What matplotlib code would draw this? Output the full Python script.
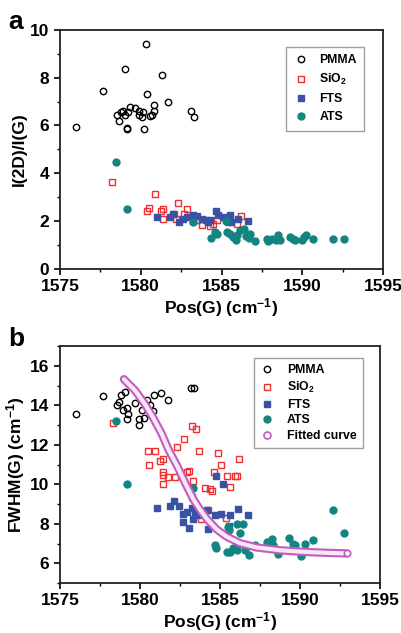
import numpy as np
import matplotlib
matplotlib.use("Agg")
import matplotlib.pyplot as plt
from matplotlib.ticker import MultipleLocator

plt.rcParams['font.family'] = ['Liberation Sans', 'DejaVu Sans']
plt.rcParams['font.weight'] = 'bold'
plt.rcParams['mathtext.fontset'] = 'custom'
plt.rcParams['mathtext.rm'] = 'Liberation Sans:bold'
plt.rcParams['mathtext.default'] = 'rm'

# ---------------- panel a : I(2D)/I(G) vs Pos(G) ----------------
a_pmma_x = [1575.97, 1577.64, 1579.05, 1580.30, 1581.32, 1580.41, 1581.71, 1583.09, 1583.30,
            1580.82, 1580.84, 1580.70, 1580.57, 1580.20, 1579.13, 1579.13, 1578.63, 1578.53,
            1578.80, 1579.02, 1579.23, 1579.33, 1579.64, 1579.89, 1580.12, 1580.10, 1579.89,
            1578.88]
a_pmma_y = [5.94, 7.43, 8.35, 9.41, 8.09, 7.32, 7.00, 6.59, 6.37,
            6.86, 6.61, 6.42, 6.40, 5.84, 5.88, 5.84, 6.19, 6.44,
            6.58, 6.44, 6.58, 6.79, 6.73, 6.44, 6.55, 6.34, 6.62,
            6.61]
a_sio2_x = [1578.24, 1580.90, 1580.49, 1580.39, 1581.40, 1581.24, 1581.40, 1582.29, 1582.88,
            1582.08, 1582.66, 1583.80, 1584.31, 1586.19, 1585.94, 1582.20, 1583.50, 1584.70,
            1585.40, 1584.50]
a_sio2_y = [3.62, 3.14, 2.57, 2.43, 2.50, 2.43, 2.09, 2.74, 2.49,
            2.32, 2.32, 1.86, 1.80, 2.21, 1.87, 2.10, 2.05, 2.05,
            1.95, 1.90]
a_fts_x = [1581.03, 1581.81, 1582.02, 1582.39, 1582.64, 1582.85, 1583.21, 1583.50, 1583.77,
           1584.04, 1584.18, 1584.66, 1584.80, 1585.07, 1585.53, 1585.57, 1586.04, 1586.66,
           1584.30, 1583.25]
a_fts_y = [2.18, 2.18, 2.28, 1.97, 2.11, 2.18, 2.25, 2.21, 2.11,
           2.04, 1.97, 2.43, 2.25, 2.18, 2.25, 1.97, 2.08, 2.00,
           2.05, 2.00]
a_ats_x = [1578.47, 1579.13, 1583.21, 1584.37, 1584.60, 1584.70, 1585.28, 1585.36, 1585.53,
           1585.74, 1585.94, 1585.90, 1586.15, 1586.39, 1586.52, 1586.76, 1586.72, 1587.07,
           1587.80, 1587.90, 1588.11, 1588.38, 1588.52, 1588.62, 1589.24, 1589.45, 1589.55,
           1589.96, 1590.11, 1590.24, 1590.69, 1591.88, 1592.61]
a_ats_y = [4.46, 2.51, 1.97, 1.31, 1.55, 1.48, 2.01, 1.55, 1.48,
           1.34, 1.41, 1.23, 1.62, 1.68, 1.37, 1.48, 1.31, 1.17,
           1.27, 1.17, 1.27, 1.23, 1.41, 1.23, 1.34, 1.27, 1.20,
           1.23, 1.34, 1.41, 1.27, 1.27, 1.27]

# ---------------- panel b : FWHM(G) vs Pos(G) ----------------
b_pmma_x = [1575.98, 1577.67, 1578.69, 1578.58, 1578.85, 1579.06, 1578.92, 1579.17, 1579.27,
            1579.17, 1579.94, 1579.94, 1580.15, 1580.27, 1579.69, 1580.42, 1580.63, 1580.83,
            1580.88, 1581.35, 1581.77, 1583.17, 1583.38]
b_pmma_y = [13.59, 14.49, 14.17, 14.01, 14.51, 14.68, 13.79, 13.89, 13.59,
            13.29, 13.29, 13.00, 13.76, 13.34, 14.12, 14.26, 14.01, 13.72,
            14.51, 14.63, 14.29, 14.88, 14.88]
b_sio2_x = [1578.29, 1580.48, 1580.56, 1580.96, 1581.25, 1581.46, 1581.46, 1581.46, 1581.46,
            1581.77, 1582.19, 1582.35, 1582.77, 1582.92, 1583.08, 1583.23, 1583.48, 1583.33,
            1583.69, 1584.06, 1584.38, 1584.48, 1584.63, 1584.90, 1585.06, 1585.42, 1585.63,
            1585.94, 1586.21, 1586.08, 1585.38, 1583.83, 1584.27]
b_sio2_y = [13.09, 11.70, 10.99, 11.70, 11.19, 11.27, 10.64, 10.47, 10.02,
            10.35, 10.35, 11.91, 12.28, 10.61, 10.69, 12.98, 12.82, 10.19,
            11.70, 9.80, 9.77, 9.68, 10.61, 11.61, 10.99, 10.44, 9.85,
            10.44, 11.27, 10.44, 8.30, 8.23, 8.68]
b_fts_x = [1581.08, 1581.88, 1582.13, 1582.46, 1582.67, 1582.67, 1582.92, 1583.08, 1583.23,
           1583.29, 1583.44, 1583.65, 1583.96, 1584.21, 1584.27, 1584.69, 1585.04, 1584.75,
           1585.17, 1585.58, 1585.63, 1586.15, 1586.77, 1583.23]
b_fts_y = [8.80, 8.90, 9.18, 8.90, 8.51, 8.09, 8.60, 7.79, 8.80,
           8.23, 8.51, 8.43, 8.51, 8.68, 7.76, 8.43, 8.48, 10.41,
           10.02, 7.89, 8.46, 8.73, 8.43, 9.35]
b_ats_x = [1578.50, 1579.17, 1583.29, 1584.69, 1584.75, 1585.42, 1585.52, 1585.63, 1585.83,
           1586.04, 1586.04, 1586.25, 1586.46, 1586.56, 1586.83, 1587.19, 1587.92, 1588.23,
           1588.33, 1588.65, 1589.33, 1589.54, 1589.69, 1590.10, 1590.31, 1590.83, 1592.04,
           1592.77, 1585.60, 1586.10]
b_ats_y = [13.20, 10.02, 9.80, 6.92, 6.75, 6.55, 7.84, 6.58, 6.75,
           8.01, 6.67, 7.51, 8.01, 6.67, 6.42, 6.92, 7.09, 7.22,
           6.92, 6.45, 7.29, 7.00, 6.95, 6.38, 6.99, 7.17, 8.68,
           7.51, 7.70, 6.90]
fit_x = [1579.0, 1579.7, 1580.3, 1580.8, 1581.35, 1581.8, 1582.35, 1582.9, 1583.35, 1583.75,
         1584.2, 1584.8, 1585.4, 1586.25, 1587.3, 1588.75, 1589.8, 1591.0, 1592.0, 1592.95]
fit_y = [15.33, 14.76, 14.08, 13.42, 12.58, 11.74, 10.90, 9.95, 9.23, 8.73,
         8.23, 7.72, 7.36, 7.02, 6.80, 6.66, 6.60, 6.55, 6.52, 6.50]

RED = '#f03030'
BLUE = '#3a52a4'
TEAL = '#138580'
PINK = '#c25cc0'

fig = plt.figure(figsize=(4.02, 6.33), dpi=100)
ax_a = fig.add_axes([0.149, 0.575, 0.804, 0.378])
ax_b = fig.add_axes([0.149, 0.079, 0.796, 0.374])


def draw_series(ax, px, py, sx, sy, fx, fy, tx, ty):
    ax.plot(px, py, 'o', ls='none', mfc='none', mec='black', mew=1.0, ms=4.6, label='PMMA')
    ax.plot(sx, sy, 's', ls='none', mfc='none', mec=RED, mew=1.0, ms=4.4, label='SiO$_2$')
    ax.plot(fx, fy, 's', ls='none', mfc=BLUE, mec=BLUE, ms=4.8, label='FTS')
    ax.plot(tx, ty, 'o', ls='none', mfc=TEAL, mec=TEAL, ms=5.0, label='ATS')


def style(ax, ylim, ymajor, yminor, ylabel):
    ax.set_xlim(1575, 1595)
    ax.set_ylim(*ylim)
    ax.xaxis.set_major_locator(MultipleLocator(5))
    ax.xaxis.set_minor_locator(MultipleLocator(2.5))
    ax.yaxis.set_major_locator(MultipleLocator(ymajor))
    ax.yaxis.set_minor_locator(MultipleLocator(yminor))
    ax.tick_params(which='major', direction='out', length=4, width=1.2, labelsize=12.5)
    ax.tick_params(which='minor', direction='out', length=2.5, width=1.0)
    for sp in ax.spines.values():
        sp.set_linewidth(1.3)
        sp.set_color('#222222')
    for lab in ax.get_xticklabels() + ax.get_yticklabels():
        lab.set_fontweight('bold')
    ax.set_xlabel('Pos(G) (cm$^{-1}$)', fontsize=12.5, fontweight='bold', labelpad=1)
    ax.set_ylabel(ylabel, fontsize=12.5, fontweight='bold', labelpad=2)


draw_series(ax_a, a_pmma_x, a_pmma_y, a_sio2_x, a_sio2_y, a_fts_x, a_fts_y, a_ats_x, a_ats_y)
style(ax_a, (0, 10), 2, 1, 'I(2D)/I(G)')
leg_a = ax_a.legend(loc='upper right', bbox_to_anchor=(0.96, 0.955), fontsize=8.8,
                    frameon=True, fancybox=False, edgecolor='#888888', handlelength=1.2,
                    handletextpad=0.9, borderpad=0.6, labelspacing=0.5)
leg_a.get_frame().set_linewidth(1.0)

draw_series(ax_b, b_pmma_x, b_pmma_y, b_sio2_x, b_sio2_y, b_fts_x, b_fts_y, b_ats_x, b_ats_y)
# fitted curve drawn as a tube of hollow circles, on top of the points
ax_b.plot(fit_x, fit_y, '-', color=PINK, lw=6.0, solid_capstyle='round', zorder=6)
ax_b.plot(fit_x, fit_y, '-', color='#f6e8f6', lw=3.0, solid_capstyle='round', zorder=7)
ax_b.plot(fit_x[-1:], fit_y[-1:], 'o', mfc='white', mec=PINK, mew=1.2, ms=4.5, zorder=8)
ax_b.plot([], [], 'o', ls='none', mfc='none', mec=PINK, mew=1.2, ms=5, label='Fitted curve')
style(ax_b, (5, 17), 2, 1, 'FWHM(G) (cm$^{-1}$)')
leg_b = ax_b.legend(loc='upper right', bbox_to_anchor=(0.965, 0.975), fontsize=8.8,
                    frameon=True, fancybox=False, edgecolor='#888888', handlelength=1.2,
                    handletextpad=1.0, borderpad=0.5, labelspacing=0.3)
leg_b.get_frame().set_linewidth(1.0)

fig.text(0.02, 0.965, 'a', fontsize=19, fontweight='bold', va='center')
fig.text(0.02, 0.465, 'b', fontsize=19, fontweight='bold', va='center')

fig.savefig('out.png', dpi=100)
